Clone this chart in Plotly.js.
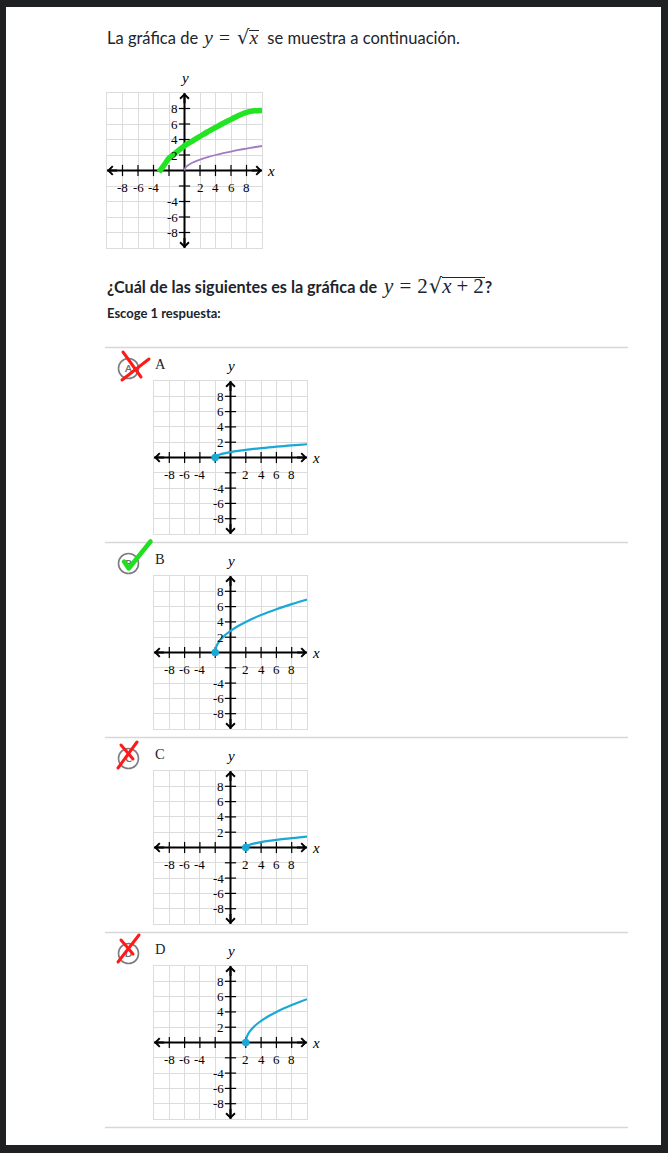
<!DOCTYPE html>
<html>
<head>
<meta charset="utf-8">
<script src="https://cdn.plot.ly/plotly-3.0.1.min.js"></script>
<style>
  html, body { margin:0; padding:0; width:668px; height:1153px; background:#1f2022; overflow:hidden; }
  #paper { position:absolute; left:6px; top:7px; width:655px; height:1138px; background:#ffffff; }
  .txt { position:absolute; font-family:Lato, "Open Sans", sans-serif; color:#21242c; white-space:nowrap; }
  .math { font-family:"Liberation Serif", "DejaVu Serif", serif; font-weight:400; }
  .mi { font-style:italic; }
  .eq { margin:0 6px; }
  .pl { display:inline-block; margin:0 5px; }
  .rad { font-family:"DejaVu Serif", serif; margin-left:1px; }
  .ov { display:inline-block; border-top:1.2px solid #21242c; padding-right:1px; }
  .g { position:absolute; }
  #overlay { position:absolute; left:0; top:0; }
  .letter { position:absolute; font-family:"Liberation Serif", serif; font-size:14.5px; color:#21242c; }
</style>
</head>
<body>
<div id="paper"></div>

<div class="txt" style="left:107px; top:28px; font-size:16.5px; line-height:20px;">La gráfica de <span class="math" style="font-size:19.5px; margin:0 4px 0 2px;"><span class="mi">y</span><span class="eq">=</span><span class="rad">√</span><span class="ov mi" style="line-height:0.76em;">x</span></span> se muestra a continuación.</div>

<div class="txt" style="left:107px; top:274px; font-size:16.2px; line-height:24px; font-weight:700;">¿Cuál de las siguientes es la gráfica de <span class="math" style="font-size:21px; margin-left:3px;"><span class="mi">y</span><span class="eq">=</span>2<span class="rad">√</span><span class="ov" style="line-height:0.82em;"><span class="mi">x</span><span class="pl">+</span>2</span></span>?</div>

<div class="txt" style="left:107px; top:305px; font-size:13px; line-height:16px; font-weight:700;">Escoge 1 respuesta:</div>

<div class="letter" style="left:155px; top:356px;">A</div>
<div class="letter" style="left:155px; top:551px;">B</div>
<div class="letter" style="left:155px; top:746px;">C</div>
<div class="letter" style="left:155px; top:941px;">D</div>

<div id="g0" class="g"></div>
<div id="gA" class="g"></div>
<div id="gB" class="g"></div>
<div id="gC" class="g"></div>
<div id="gD" class="g"></div>

<svg id="overlay" width="668" height="1153" xmlns="http://www.w3.org/2000/svg">
  <g stroke="#d5d7d9" stroke-width="1.5">
    <line x1="105" y1="347.5" x2="628" y2="347.5"/>
    <line x1="105" y1="542.5" x2="628" y2="542.5"/>
    <line x1="105" y1="737.5" x2="628" y2="737.5"/>
    <line x1="105" y1="932.5" x2="628" y2="932.5"/>
    <line x1="105" y1="1127.5" x2="628" y2="1127.5"/>
  </g>
  <g fill="none" stroke="#7a7c80" stroke-width="1.6">
    <circle cx="128.5" cy="368.5" r="10"/>
    <circle cx="128.5" cy="563.5" r="10"/>
    <circle cx="128.5" cy="758.5" r="10"/>
    <circle cx="128.5" cy="953.5" r="10"/>
  </g>
  <g font-family="Lato, sans-serif" font-size="10" font-weight="700" fill="#6b6d72" text-anchor="middle">
    <text x="128.5" y="372">A</text>
    <text x="128.5" y="567">B</text>
    <text x="128.5" y="762">C</text>
    <text x="128.5" y="957">D</text>
  </g>
  <g stroke="#ff1a1a" stroke-width="3" stroke-linecap="round" fill="none">
    <line x1="123" y1="352" x2="141" y2="377"/>
    <line x1="149" y1="359" x2="122" y2="380"/>
    <line x1="121" y1="745" x2="133" y2="759"/>
    <line x1="137" y1="742" x2="118" y2="768"/>
    <line x1="121" y1="940" x2="133" y2="954"/>
    <line x1="139" y1="935" x2="118" y2="962"/>
  </g>
  <polyline points="124,561.5 128.7,568.5 150.5,541.5" fill="none" stroke="#1fe01f" stroke-width="4.5" stroke-linecap="round" stroke-linejoin="round"/>
</svg>

<script>
// ---------- data ----------
const AXIS_RANGE = [-10, 10];
const GRID_STEP = 2;
const TICK_POS = [-8, -6, -4, -2, 2, 4, 6, 8];
const X_TICK_LABELS = [-8, -6, -4, 2, 4, 6, 8];
const Y_TICK_LABELS = [8, 6, 4, 2, -4, -6, -8];

// parent function y = sqrt(x) (purple)
const PARENT_X = [0, 0.1, 0.25, 0.5, 1, 1.5, 2, 3, 4, 5, 6, 7, 8, 9, 10];
const PARENT_Y = [0, 0.32, 0.5, 0.71, 1, 1.22, 1.41, 1.73, 2, 2.24, 2.45, 2.65, 2.83, 3, 3.16];

// hand-drawn green sketch on the parent graph
const SKETCH_X = [-3.3, -2.5, -2, -1, 0, 1, 2, 3, 4, 5, 6, 7, 8, 9, 10];
const SKETCH_Y = [-0.2, 0.9, 1.6, 2.4, 3.2, 3.8, 4.4, 5.0, 5.55, 6.1, 6.6, 7.1, 7.5, 7.7, 7.75];

// answer choices (blue)
const LEFT_X  = [-2, -1.9, -1.7, -1.4, -1, -0.5, 0, 1, 2, 3, 4, 5, 6, 7, 8, 9, 10];
const A_Y = [0, 0.16, 0.27, 0.39, 0.5, 0.61, 0.71, 0.87, 1, 1.12, 1.22, 1.32, 1.41, 1.5, 1.58, 1.66, 1.73];
const B_Y = [0, 0.63, 1.10, 1.55, 2, 2.45, 2.83, 3.46, 4, 4.47, 4.90, 5.29, 5.66, 6, 6.32, 6.63, 6.93];
const RIGHT_X = [2, 2.1, 2.3, 2.6, 3, 3.5, 4, 5, 6, 7, 8, 9, 10];
const C_Y = [0, 0.16, 0.27, 0.39, 0.5, 0.61, 0.71, 0.87, 1, 1.12, 1.22, 1.32, 1.41];
const D_Y = [0, 0.63, 1.10, 1.55, 2, 2.45, 2.83, 3.46, 4, 4.47, 4.90, 5.29, 5.66];

// ---------- drawing ----------
const SERIF = '"Liberation Serif", "DejaVu Serif", serif';
const GRID_COLOR = '#dcdcdc';
const BLUE = '#1aa9d6';
const M = 30;

function buildGraph(id, box, curves) {
  const el = document.getElementById(id);
  const W = box.size + 2 * M;
  el.style.left = (box.left - M) + 'px';
  el.style.top = (box.top - M) + 'px';
  el.style.width = W + 'px';
  el.style.height = W + 'px';

  const traces = [];
  traces.push({x: AXIS_RANGE, y: [0, 0], mode: 'lines', line: {color: '#000', width: 2}, hoverinfo: 'skip'});
  traces.push({x: [0, 0], y: AXIS_RANGE, mode: 'lines', line: {color: '#000', width: 2}, hoverinfo: 'skip'});
  traces.push({x: TICK_POS, y: TICK_POS.map(() => 0), mode: 'markers',
    marker: {symbol: 'line-ns', size: 8, line: {width: 1.2, color: '#000'}}});
  traces.push({x: TICK_POS.map(() => 0), y: TICK_POS, mode: 'markers',
    marker: {symbol: 'line-ew', size: 8, line: {width: 1.2, color: '#000'}}});
  curves.forEach(c => {
    traces.push({x: c.x, y: c.y, mode: 'lines', line: {color: c.color, width: c.width, shape: 'spline', smoothing: 0.6}});
    if (c.dot) {
      traces.push({x: [c.x[0]], y: [c.y[0]], mode: 'markers', marker: {color: c.color, size: 7.5}});
    }
  });

  const ann = [];
  const arrowBase = {showarrow: true, text: '', xref: 'x', yref: 'y', axref: 'x', ayref: 'y',
    arrowhead: 4, arrowsize: 0.85, arrowwidth: 2, arrowcolor: '#000', standoff: 0};
  ann.push(Object.assign({}, arrowBase, {x: AXIS_RANGE[1], y: 0, ax: AXIS_RANGE[1] - 1.5, ay: 0}));
  ann.push(Object.assign({}, arrowBase, {x: AXIS_RANGE[0], y: 0, ax: AXIS_RANGE[0] + 1.5, ay: 0}));
  ann.push(Object.assign({}, arrowBase, {x: 0, y: AXIS_RANGE[1], ax: 0, ay: AXIS_RANGE[1] - 1.5}));
  ann.push(Object.assign({}, arrowBase, {x: 0, y: AXIS_RANGE[0], ax: 0, ay: AXIS_RANGE[0] + 1.5}));

  X_TICK_LABELS.forEach(v => ann.push({x: v, y: 0, xref: 'x', yref: 'y', text: String(v), showarrow: false,
    yanchor: 'middle', xanchor: 'center', yshift: -17, font: {family: SERIF, size: 13, color: '#000'}}));
  Y_TICK_LABELS.forEach(v => ann.push({x: 0, y: v, xref: 'x', yref: 'y', text: String(v), showarrow: false,
    yanchor: 'middle', xanchor: 'right', xshift: -5, font: {family: SERIF, size: 13, color: '#000'}}));

  ann.push({x: 0.5, y: 1, xref: 'paper', yref: 'paper', text: '<i>y</i>', showarrow: false,
    yanchor: 'middle', xanchor: 'center', yshift: 15, font: {family: SERIF, size: 15, color: '#000'}});
  ann.push({x: 1, y: 0.5, xref: 'paper', yref: 'paper', text: '<i>x</i>', showarrow: false,
    yanchor: 'middle', xanchor: 'center', xshift: 9, font: {family: SERIF, size: 15, color: '#000'}});

  const axisBase = {range: AXIS_RANGE, dtick: GRID_STEP, tick0: 0, showticklabels: false, ticks: '',
    zeroline: false, showgrid: true, gridcolor: GRID_COLOR, gridwidth: 1,
    showline: true, mirror: true, linecolor: GRID_COLOR, linewidth: 1, fixedrange: true};

  const layout = {
    width: W, height: W,
    margin: {l: M, r: M, t: M, b: M, pad: 0},
    paper_bgcolor: 'rgba(0,0,0,0)', plot_bgcolor: '#ffffff',
    showlegend: false,
    xaxis: Object.assign({}, axisBase),
    yaxis: Object.assign({}, axisBase),
    annotations: ann
  };
  Plotly.newPlot(el, traces, layout, {staticPlot: true, displayModeBar: false});
}

buildGraph('g0', {left: 107, top: 92.5, size: 155}, [
  {x: PARENT_X, y: PARENT_Y, color: '#a17cc0', width: 1.8, dot: false},
  {x: SKETCH_X, y: SKETCH_Y, color: '#22e422', width: 5.5, dot: false}
]);
buildGraph('gA', {left: 154, top: 381, size: 153}, [{x: LEFT_X, y: A_Y, color: BLUE, width: 2.2, dot: true}]);
buildGraph('gB', {left: 154, top: 576, size: 153}, [{x: LEFT_X, y: B_Y, color: BLUE, width: 2.2, dot: true}]);
buildGraph('gC', {left: 154, top: 771, size: 153}, [{x: RIGHT_X, y: C_Y, color: BLUE, width: 2.2, dot: true}]);
buildGraph('gD', {left: 154, top: 966, size: 153}, [{x: RIGHT_X, y: D_Y, color: BLUE, width: 2.2, dot: true}]);
</script>
</body>
</html>
